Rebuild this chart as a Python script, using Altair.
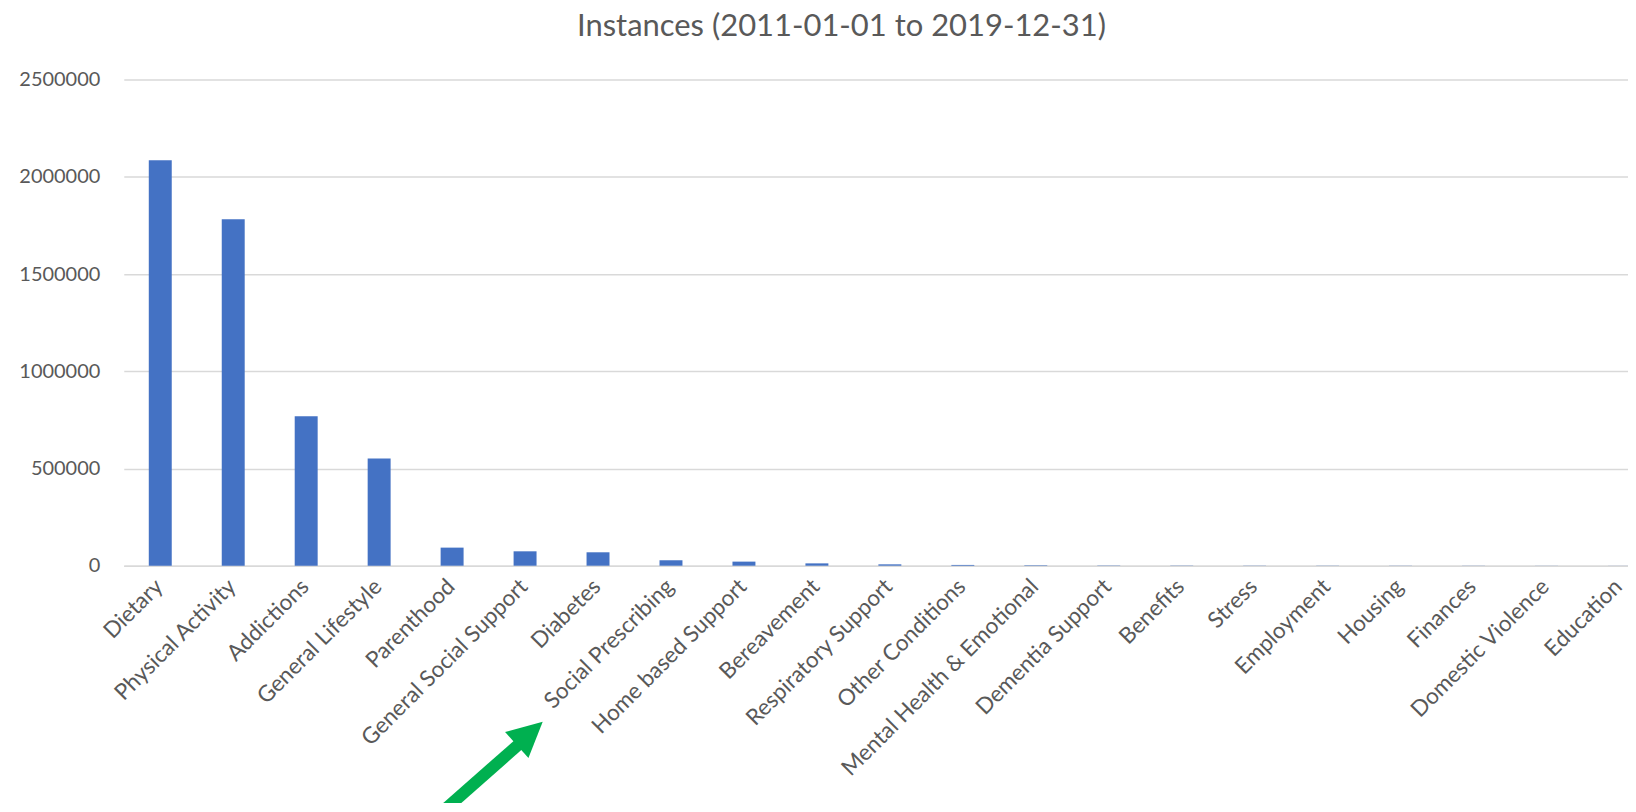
import altair as alt
import pandas as pd

categories = [
    "Dietary", "Physical Activity", "Addictions", "General Lifestyle", "Parenthood",
    "General Social Support", "Diabetes", "Social Prescribing", "Home based Support",
    "Bereavement", "Respiratory Support", "Other Conditions", "Mental Health & Emotional",
    "Dementia Support", "Benefits", "Stress", "Employment", "Housing", "Finances",
    "Domestic Violence", "Education",
]
instances = [
    2085000, 1782000, 768000, 551000, 93000,
    74000, 69000, 28000, 21000,
    12000, 7000, 4000, 2500,
    1500, 1200, 1000, 900, 800, 700,
    500, 400,
]

df = pd.DataFrame({"category": categories, "instances": instances})
one = pd.DataFrame({"k": [0]})

FONT = "Lato"
GREY = "#595959"
GRID = "#d9d9d9"
GREEN = "#00b050"

bars = alt.Chart(df).mark_bar(color="#4472c4", size=23).encode(
    x=alt.X(
        "category:N",
        sort=categories,
        scale=alt.Scale(range=[0, 1535], paddingInner=0, paddingOuter=0),
        axis=alt.Axis(
            title=None,
            labelAngle=-45,
            labelAlign="right",
            labelBaseline="middle",
            labelFont=FONT,
            labelFontSize=22.5,
            labelColor=GREY,
            labelPadding=17,
            labelOffset=-1,
            ticks=False,
            domain=True,
            domainColor=GRID,
            domainWidth=1.5,
            grid=False,
            labelOverlap=False,
            labelLimit=400,
        ),
    ),
    y=alt.Y(
        "instances:Q",
        scale=alt.Scale(domain=[0, 2500000], nice=False),
        axis=alt.Axis(
            title=None,
            values=[0, 500000, 1000000, 1500000, 2000000, 2500000],
            format="d",
            labelFont=FONT,
            labelFontSize=20,
            labelColor=GREY,
            labelPadding=24,
            ticks=False,
            domain=False,
            grid=True,
            gridColor=GRID,
            gridWidth=1.5,
        ),
    ),
)

# green annotation arrow pointing at the "Social Prescribing" label
shaft = alt.Chart(one).mark_rule(color=GREEN, strokeWidth=12).encode(
    x=alt.value(322), y=alt.value(731), x2=alt.value(398), y2=alt.value(664)
)
head = alt.Chart(one).mark_point(
    shape="M0,-1L1,1L-1,1Z", filled=True, color=GREEN, opacity=1,
    size=1225, angle=48, strokeWidth=0,
).encode(x=alt.value(406.7), y=alt.value(655))

chart = alt.layer(bars, shaft, head).properties(
    width=1498,
    height=487,
    title=alt.TitleParams(
        "Instances (2011-01-01 to 2019-12-31)",
        font=FONT,
        fontSize=31,
        fontWeight="normal",
        color=GREY,
        anchor="middle",
        frame="group",
        dx=-30,
        baseline="alphabetic",
        offset=3,
    ),
    autosize=alt.AutoSizeParams(type="none"),
    padding={"left": 116, "top": 71, "right": 9, "bottom": 237},
).configure_view(stroke=None)

chart.save("out.html", embed_options={"renderer": "svg", "actions": False})
